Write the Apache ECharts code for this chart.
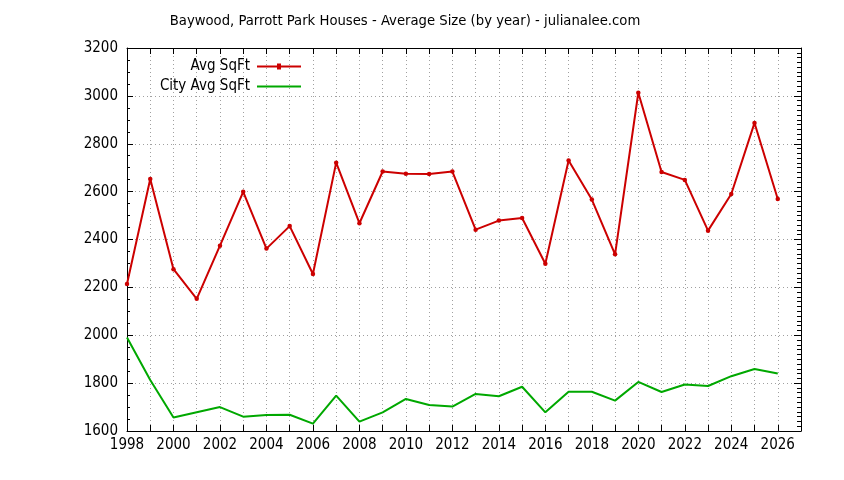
<!DOCTYPE html>
<html>
<head>
    <meta charset="UTF-8">
    <title>Baywood, Parrott Park Houses - Average Size</title>
    <style type="text/css">
        *{ margin: 0; padding: 0; }
        #main{ width: 844px; height: 480px; background: #fff; }
    </style>
    <script src="https://cdn.jsdelivr.net/npm/echarts@6/dist/echarts.min.js"></script>
</head>
<body>
<div id="main"></div>
<script type="text/javascript">
    // data
    var years = [1998,1999,2000,2001,2002,2003,2004,2005,2006,2007,2008,2009,2010,2011,2012,
                 2013,2014,2015,2016,2017,2018,2019,2020,2021,2022,2023,2024,2025,2026];
    var avgSqft = [2214,2653,2276,2152,2374,2599,2362,2456,2256,2721,2468,2684,2675,2674,2684,
                   2441,2479,2490,2299,2730,2567,2338,3013,2682,2649,2437,2590,2887,2569];
    var cityAvgSqft = [1991,1813,1656,1678,1700,1660,1667,1668,1631,1748,1639,1678,1734,1709,1702,
                       1755,1745,1785,1678,1764,1764,1727,1805,1763,1794,1788,1829,1859,1840];
    var yTicks = [1600,1800,2000,2200,2400,2600,2800,3000,3200];

    var font = "'DejaVu Sans Condensed', 'Liberation Sans', sans-serif";

    function pairs(vals) {
        return years.map(function (y, i) { return [y, vals[i]]; });
    }

    var myChart = echarts.init(document.getElementById('main'));

    var gridLine = { show: true, lineStyle: { color: '#a0a0a0', type: [1, 3], width: 1 } };
    var axisLine = { show: true, onZero: false, lineStyle: { color: '#000', width: 1 } };
    var legendText = { fontFamily: font, fontSize: 15, color: '#000', padding: [0, 2, 0, 0] };

    option = {
        backgroundColor: '#fff',
        animation: false,
        title: {
            text: 'Baywood, Parrott Park Houses - Average Size (by year) - julianalee.com',
            left: 400, top: 9, textAlign: 'center',
            textStyle: { fontFamily: font, fontSize: 14.7, fontWeight: 'normal', color: '#000' }
        },
        legend: [
            {
                // line with a small dot in the middle
                data: [{ name: 'Avg SqFt', icon: 'path://M0,2 L44,2 L44,4 L0,4 Z M20,0 L24,0 L24,6 L20,6 Z' }],
                right: 543, top: 59, align: 'right',
                itemWidth: 44, itemHeight: 6, padding: 0,
                textStyle: legendText
            },
            {
                data: [{ name: 'City Avg SqFt', icon: 'path://M0,0 L44,0 L44,2 L0,2 Z' }],
                right: 543, top: 79, align: 'right',
                itemWidth: 44, itemHeight: 2, padding: 0,
                textStyle: legendText
            }
        ],
        grid: { left: 127, right: 43, top: 48, bottom: 49, containLabel: false },
        xAxis: [
            {
                type: 'value', min: 1998, max: 2027, interval: 1, position: 'bottom',
                axisLine: axisLine,
                axisTick: { show: true, inside: true, length: 6, lineStyle: { color: '#000' } },
                axisLabel: {
                    fontFamily: font, fontSize: 15, color: '#000', margin: 7,
                    formatter: function (v) { return (v % 2 === 0 && v <= 2026) ? String(v) : ''; }
                },
                splitLine: gridLine
            },
            {
                type: 'value', min: 1998, max: 2027, interval: 1, position: 'top',
                axisLine: axisLine,
                axisTick: { show: true, inside: true, length: 6, lineStyle: { color: '#000' } },
                axisLabel: { show: false },
                splitLine: { show: false }
            }
        ],
        yAxis: [
            {
                type: 'value', min: yTicks[0], max: yTicks[yTicks.length - 1], interval: 200, position: 'left',
                axisLine: axisLine,
                axisTick: { show: true, inside: true, length: 6, lineStyle: { color: '#000' } },
                minorTick: { show: true, splitNumber: 4, length: 3, lineStyle: { color: '#000' } },
                axisLabel: {
                    fontFamily: font, fontSize: 15, color: '#000', margin: 9,
                    formatter: function (v) { return String(v); }
                },
                splitLine: gridLine
            },
            {
                type: 'value', min: yTicks[0], max: yTicks[yTicks.length - 1], interval: 200, position: 'right',
                axisLine: axisLine,
                axisTick: { show: true, inside: true, length: 7, lineStyle: { color: '#000' } },
                minorTick: { show: true, splitNumber: 10, length: 4, lineStyle: { color: '#000' } },
                axisLabel: { show: false },
                splitLine: { show: false }
            }
        ],
        series: [
            {
                name: 'Avg SqFt', type: 'line', data: pairs(avgSqft),
                symbol: 'circle', symbolSize: 4.5, showSymbol: true,
                itemStyle: { color: '#cc0000' },
                lineStyle: { color: '#cc0000', width: 2 },
                z: 3
            },
            {
                name: 'City Avg SqFt', type: 'line', data: pairs(cityAvgSqft),
                symbol: 'none',
                itemStyle: { color: '#00a800' },
                lineStyle: { color: '#00a800', width: 2 },
                z: 2
            }
        ]
    };
    myChart.setOption(option);
</script>
</body>
</html>
